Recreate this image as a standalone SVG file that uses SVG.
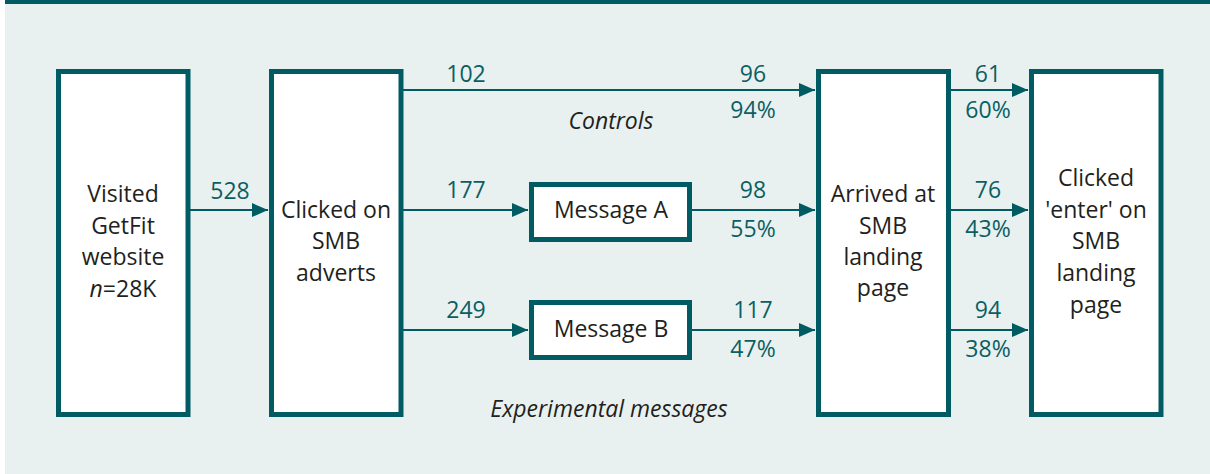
<svg xmlns="http://www.w3.org/2000/svg" width="1210" height="474" viewBox="0 0 1210 474">
<defs>
<style>
.box{fill:#fff;stroke:#015B62;stroke-width:5}
.ln{stroke:#015B62;stroke-width:2;fill:none}
.t{font-family:"Open Sans","Noto Sans",sans-serif;font-size:23px;fill:#231F20;text-anchor:middle}
.n{font-family:"Open Sans","Noto Sans",sans-serif;font-size:23px;fill:#0B5E63;text-anchor:middle}
.i{font-style:italic}
</style>
<marker id="ah" markerWidth="16" markerHeight="14" refX="16" refY="7" orient="auto" markerUnits="userSpaceOnUse">
<path d="M0,0 L16,7 L0,14 Z" fill="#015B62"/>
</marker>
</defs>
<rect x="5" y="0" width="1205" height="474" fill="#E8F1F0"/>
<rect x="5" y="0" width="1205" height="4" fill="#015B62"/>
<g id="connectors">
<line class="ln" x1="190" y1="210" x2="268" y2="210" marker-end="url(#ah)"/>
<line class="ln" x1="403" y1="90" x2="815" y2="90" marker-end="url(#ah)"/>
<line class="ln" x1="403" y1="210" x2="528" y2="210" marker-end="url(#ah)"/>
<line class="ln" x1="403" y1="330" x2="528" y2="330" marker-end="url(#ah)"/>
<line class="ln" x1="692" y1="210" x2="815" y2="210" marker-end="url(#ah)"/>
<line class="ln" x1="692" y1="330" x2="815" y2="330" marker-end="url(#ah)"/>
<line class="ln" x1="951" y1="90" x2="1028" y2="90" marker-end="url(#ah)"/>
<line class="ln" x1="951" y1="210" x2="1028" y2="210" marker-end="url(#ah)"/>
<line class="ln" x1="951" y1="330" x2="1028" y2="330" marker-end="url(#ah)"/>
<text class="n" x="230" y="199">528</text>
<text class="n" x="466" y="82">102</text>
<text class="n" x="753" y="82">96</text>
<text class="n" x="753" y="118">94%</text>
<text class="n" x="466" y="198">177</text>
<text class="n" x="753" y="198">98</text>
<text class="n" x="753" y="237">55%</text>
<text class="n" x="466" y="318">249</text>
<text class="n" x="753" y="318">117</text>
<text class="n" x="753" y="357">47%</text>
<text class="n" x="988" y="82">61</text>
<text class="n" x="988" y="118">60%</text>
<text class="n" x="988" y="198">76</text>
<text class="n" x="988" y="237">43%</text>
<text class="n" x="988" y="318">94</text>
<text class="n" x="988" y="357">38%</text>
</g>
<g id="labels">
<text class="t i" x="611" y="129">Controls</text>
<text class="t i" x="609" y="417">Experimental messages</text>
</g>
<g id="visited">
<rect class="box" x="58.5" y="71.5" width="129.5" height="343"/>
<text class="t" x="123" y="202">Visited</text>
<text class="t" x="123" y="233.5">GetFit</text>
<text class="t" x="123" y="265">website</text>
<text class="t" x="123" y="297"><tspan class="i">n</tspan>=28K</text>
</g>
<g id="clicked">
<rect class="box" x="271.5" y="71.5" width="129.5" height="343"/>
<text class="t" x="336" y="217.5">Clicked on</text>
<text class="t" x="336" y="249">SMB</text>
<text class="t" x="336" y="280.5">adverts</text>
</g>
<g id="msgA">
<rect class="box" x="531.5" y="184.5" width="158" height="55"/>
<text class="t" x="611" y="217.5">Message A</text>
</g>
<g id="msgB">
<rect class="box" x="531.5" y="302.5" width="158" height="55"/>
<text class="t" x="611" y="336.5">Message B</text>
</g>
<g id="arrived">
<rect class="box" x="818.5" y="71.5" width="130" height="343"/>
<text class="t" x="883" y="202">Arrived at</text>
<text class="t" x="883" y="233.5">SMB</text>
<text class="t" x="883" y="265">landing</text>
<text class="t" x="883" y="296">page</text>
</g>
<g id="enter">
<rect class="box" x="1031.5" y="71.5" width="129.5" height="343"/>
<text class="t" x="1096" y="186">Clicked</text>
<text class="t" x="1096" y="217.5">'enter' on</text>
<text class="t" x="1096" y="249">SMB</text>
<text class="t" x="1096" y="281">landing</text>
<text class="t" x="1096" y="312.5">page</text>
</g>
</svg>
